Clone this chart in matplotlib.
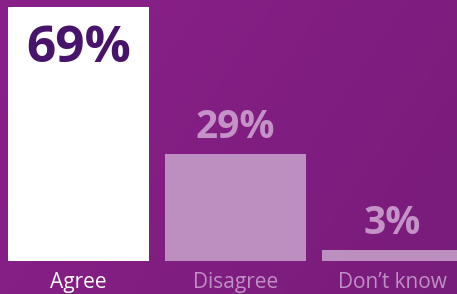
import numpy as np
import matplotlib
matplotlib.use("Agg")
import matplotlib.pyplot as plt
from matplotlib.colors import LinearSegmentedColormap

categories = ["Agree", "Disagree", "Don\u2019t know"]
values = [69, 29, 3]
value_labels = ["69%", "29%", "3%"]

bar_colors = ["#ffffff", "#bd8fc0", "#bd8fc0"]
value_colors = ["#48136a", "#c592c8", "#c592c8"]
cat_colors = ["#ffffff", "#c08fc4", "#c08fc4"]

plt.rcParams["font.family"] = ["Open Sans", "DejaVu Sans"]

fig = plt.figure(figsize=(4.57, 2.94), dpi=100)

# gradient background
bg = fig.add_axes([0, 0, 1, 1], zorder=0)
gx, gy = np.meshgrid(np.linspace(0, 1, 200), np.linspace(0, 1, 200))
grad = 0.7 * gx + 0.3 * gy
cmap = LinearSegmentedColormap.from_list("bg", ["#8b208a", "#781c7a"])
bg.imshow(grad, cmap=cmap, aspect="auto", extent=[0, 1, 0, 1], origin="upper")
bg.axis("off")

ax = fig.add_axes([0, 33 / 294, 1, 261 / 294], zorder=1)
ax.patch.set_alpha(0)
x = np.arange(len(categories))
ax.bar(x, values, width=141 / 157, color=bar_colors, linewidth=0)
ax.set_xlim(-0.5, 2.41)
ax.set_ylim(0, 69 * 261 / 254)
ax.axis("off")

for i, (v, lab) in enumerate(zip(values, value_labels)):
    if i == 0:
        ax.text(i, v - 14.9, lab, ha="center", va="baseline", fontsize=37,
                fontweight="bold", color=value_colors[i])
    else:
        ax.text(i, v + 4.4, lab, ha="center", va="baseline", fontsize=28,
                fontweight="bold", color=value_colors[i])
    ax.text(i, -7.3, categories[i], ha="center", va="baseline", fontsize=15,
            color=cat_colors[i])

fig.savefig("out.png", dpi=100)
